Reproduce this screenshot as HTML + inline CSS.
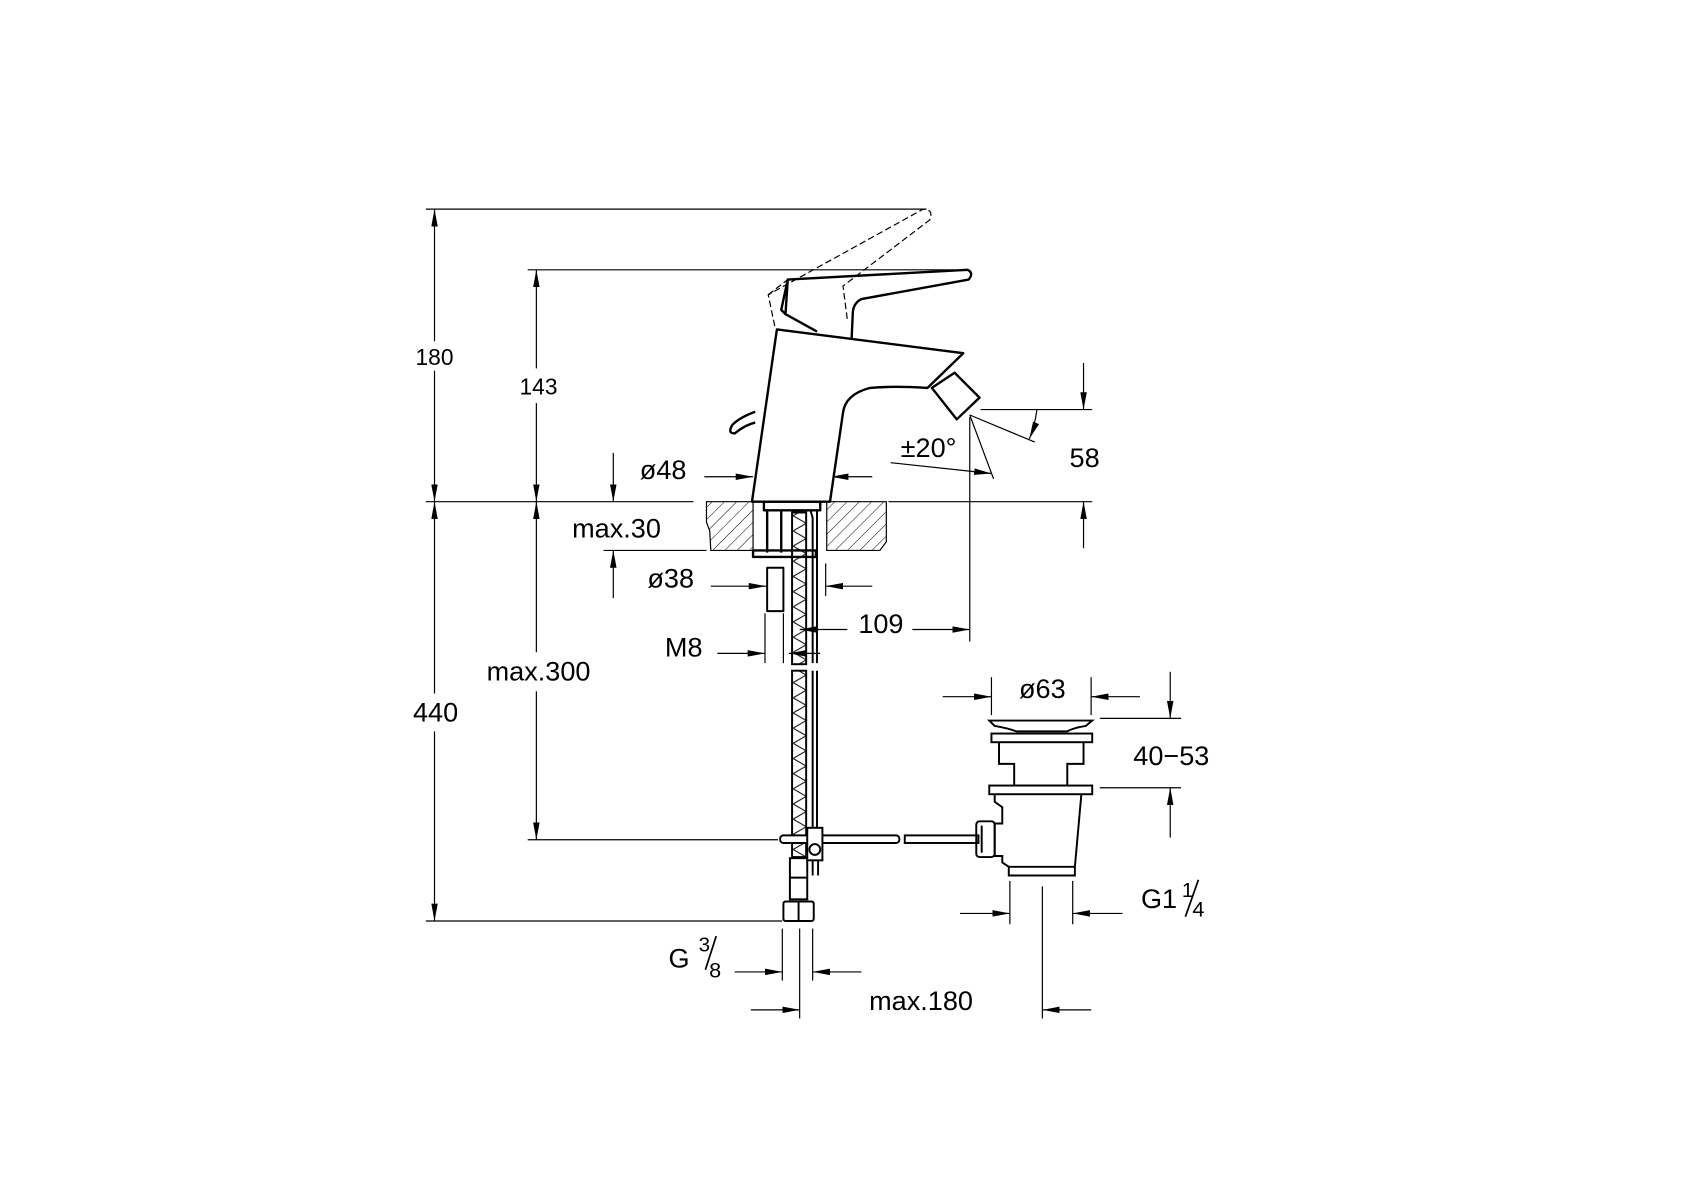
<!DOCTYPE html>
<html><head><meta charset="utf-8"><style>
html,body{margin:0;padding:0;background:#fff;}
svg{display:block;}
text{font-family:"Liberation Sans","DejaVu Sans",sans-serif;font-size:25px;fill:#000;text-anchor:middle;}
</style></head><body>
<svg width="1699" height="1200" viewBox="0 0 1568 1107.5" xmlns="http://www.w3.org/2000/svg">
<defs>
<marker id="a" viewBox="0 0 16 6" refX="16" refY="3" markerWidth="16" markerHeight="6" markerUnits="userSpaceOnUse" orient="auto">
<path d="M0,0 L16,3 L0,6 Z" fill="#000"/></marker>
<pattern id="h" width="8" height="8" patternUnits="userSpaceOnUse" patternTransform="rotate(45)">
<line x1="0" y1="0" x2="0" y2="8" stroke="#000" stroke-width="0.9"/></pattern>
<pattern id="z" width="12" height="14" patternUnits="userSpaceOnUse">
<path d="M0,0 L12,7 L0,14" fill="none" stroke="#000" stroke-width="0.9"/></pattern>
</defs>
<g stroke="#000" fill="none" stroke-width="1.1">
<line x1="393" y1="193" x2="855" y2="193"/>
<line x1="487" y1="249" x2="880" y2="249"/>
<line x1="393" y1="463" x2="640" y2="463"/>
<line x1="820" y1="463" x2="1008" y2="463"/>
<line x1="905" y1="378" x2="1008" y2="378"/>
<line x1="487" y1="775" x2="718" y2="775"/>
<line x1="393" y1="850" x2="722" y2="850"/>
<line x1="557" y1="508" x2="652" y2="508"/>
<line x1="401" y1="315" x2="401" y2="193" marker-end="url(#a)"/>
<line x1="401" y1="342" x2="401" y2="463" marker-end="url(#a)"/>
<line x1="401" y1="640" x2="401" y2="463" marker-end="url(#a)"/>
<line x1="401" y1="675" x2="401" y2="850" marker-end="url(#a)"/>
<line x1="495" y1="340" x2="495" y2="249" marker-end="url(#a)"/>
<line x1="495" y1="372" x2="495" y2="463" marker-end="url(#a)"/>
<line x1="495" y1="602" x2="495" y2="463" marker-end="url(#a)"/>
<line x1="495" y1="638" x2="495" y2="775" marker-end="url(#a)"/>
<line x1="566" y1="418" x2="566" y2="463" marker-end="url(#a)"/>
<line x1="650" y1="440" x2="695" y2="440" marker-end="url(#a)"/>
<line x1="805" y1="440" x2="767" y2="440" marker-end="url(#a)"/>
<line x1="566" y1="552" x2="566" y2="508" marker-end="url(#a)"/>
<line x1="656" y1="541" x2="707" y2="541" marker-end="url(#a)"/>
<line x1="805" y1="541" x2="762" y2="541" marker-end="url(#a)"/>
<line x1="762" y1="520" x2="762" y2="550"/>
<line x1="895" y1="385" x2="895" y2="592"/>
<line x1="782" y1="581" x2="738" y2="581" marker-end="url(#a)"/>
<line x1="842" y1="581" x2="895" y2="581" marker-end="url(#a)"/>
<line x1="662" y1="603" x2="706" y2="603" marker-end="url(#a)"/>
<line x1="706" y1="566" x2="706" y2="612"/>
<line x1="723" y1="566" x2="723" y2="612"/>
<line x1="757" y1="603" x2="728" y2="603" marker-end="url(#a)"/>
<line x1="1000" y1="335" x2="1000" y2="378" marker-end="url(#a)"/>
<line x1="1000" y1="506" x2="1000" y2="463" marker-end="url(#a)"/>
<line x1="895" y1="383" x2="955" y2="408"/>
<line x1="895" y1="383" x2="917" y2="442"/>
<path d="M957,378 Q955,393 950,405" marker-end="url(#a)"/>
<line x1="822" y1="427" x2="915" y2="437" marker-end="url(#a)"/>
<path d="M652,463 L695,463 L695,508 L656,508 L655,490 L652,482 Z" fill="url(#h)"/>
<path d="M763,463 L818,463 L818,500 L812,508 L763,508 Z" fill="url(#h)"/>
<g stroke-width="2.2" stroke-linejoin="round">
<path d="M694,463 L717,304 L889,326 L856,358 Q825,356 803,358 Q780,364 778,381 L766,463 Z" fill="#fff"/>
<path d="M860,358 L881,344 L904,367 L883,387 Z" fill="#fff"/>
<path d="M725,289 L727,258 L893,249 Q899,252 894,258 L795,276 Q787,280 787,290 L786,312"/>
<path d="M727,258 L721,286 L725,290 L754,306"/>
<path d="M697,380 Q683,385 676,392 Q671,400 678,400 Q688,392 697,390"/>
<rect x="705" y="463" width="52" height="8"/>
<line x1="708" y1="471" x2="708" y2="510"/><line x1="721" y1="471" x2="721" y2="510"/>
<rect x="695" y="508" width="58" height="6"/>
<rect x="708" y="524" width="15" height="40" stroke-width="1.8"/>
</g>
<rect x="731" y="473" width="13" height="140" fill="url(#z)" stroke-width="1.8"/>
<rect x="731" y="619" width="13" height="172" fill="url(#z)" stroke-width="1.8"/>
<path d="M748,471 L750,478 L750,612 M754,471 L754,612 M750,619 L750,768 M754,619 L754,768" stroke-width="1.8"/>
<g stroke-width="1.8">
<rect x="729" y="792" width="16" height="38"/>
<line x1="729" y1="810" x2="745" y2="810"/>
<rect x="723" y="832" width="28" height="18" rx="2"/>
<line x1="737" y1="832" x2="737" y2="850"/>
<rect x="720" y="771" width="110" height="7" rx="3" fill="#fff"/>
<rect x="835" y="771" width="68" height="7" fill="#fff"/>
<rect x="745" y="764" width="14" height="30" fill="#fff"/>
<circle cx="752" cy="784" r="5" fill="#fff"/>
<line x1="750" y1="794" x2="750" y2="808"/><line x1="755" y1="794" x2="755" y2="808"/>
<path d="M913,665 L1008,665 L1002,670 Q990,672 985,675 L938,675 Q930,672 918,670 Z"/>
<rect x="915" y="677" width="93" height="8"/>
<path d="M922,685 L922,705 L936,705 L936,725 L985,725 L985,705 L1000,705 L1000,685"/>
<rect x="913" y="725" width="95" height="8"/>
<path d="M918,733 L918,740 L925,745 L925,760 L918,760 L918,790 L925,790 L925,796 L931,800 L931,808 L992,808 L992,800 L998,733"/>
<line x1="931" y1="800" x2="992" y2="800"/>
<rect x="901" y="758" width="17" height="33" rx="3"/>
<line x1="906" y1="762" x2="906" y2="787"/>
</g>
<path d="M715,301 L709,272 L852,193 Q862,193 858,203 L778,264 L782,295" stroke-dasharray="6,3"/>
<path d="M709,272 L727,258" stroke-dasharray="6,3"/>
<line x1="915" y1="625" x2="915" y2="660"/><line x1="1007" y1="625" x2="1007" y2="660"/>
<line x1="870" y1="643" x2="915" y2="643" marker-end="url(#a)"/>
<line x1="1052" y1="643" x2="1007" y2="643" marker-end="url(#a)"/>
<line x1="1015" y1="663" x2="1090" y2="663"/><line x1="1015" y1="727" x2="1090" y2="727"/>
<line x1="1080" y1="620" x2="1080" y2="663" marker-end="url(#a)"/>
<line x1="1080" y1="773" x2="1080" y2="727" marker-end="url(#a)"/>
<line x1="932" y1="813" x2="932" y2="853"/><line x1="990" y1="813" x2="990" y2="853"/>
<line x1="962" y1="818" x2="962" y2="940"/>
<line x1="886" y1="843" x2="932" y2="843" marker-end="url(#a)"/>
<line x1="1036" y1="843" x2="990" y2="843" marker-end="url(#a)"/>
<line x1="722" y1="857" x2="722" y2="905"/><line x1="738" y1="857" x2="738" y2="940"/><line x1="750" y1="857" x2="750" y2="905"/>
<line x1="678" y1="897" x2="722" y2="897" marker-end="url(#a)"/>
<line x1="795" y1="897" x2="750" y2="897" marker-end="url(#a)"/>
<line x1="693" y1="932" x2="738" y2="932" marker-end="url(#a)"/>
<line x1="1007" y1="932" x2="962" y2="932" marker-end="url(#a)"/>
<line x1="1094" y1="846" x2="1106" y2="812" stroke-width="1.6"/>
<line x1="651" y1="895" x2="661" y2="864" stroke-width="1.6"/>
</g>
<text x="401" y="337" style="font-size:21px">180</text>
<text x="497" y="364" style="font-size:21px">143</text>
<text x="402" y="666">440</text>
<text x="497" y="628">max.300</text>
<text x="612" y="442">ø48</text>
<text x="569" y="496">max.30</text>
<text x="619" y="542">ø38</text>
<text x="813" y="584">109</text>
<text x="631" y="606">M8</text>
<text x="857" y="422">±20°</text>
<text x="1001" y="431">58</text>
<text x="962" y="644">ø63</text>
<text x="1081" y="706">40−53</text>
<text x="1053" y="838" style="text-anchor:start">G1</text>
<text x="1096" y="828" style="font-size:19px">1</text>
<text x="1106" y="846" style="font-size:20px">4</text>
<text x="617" y="893" style="text-anchor:start">G</text>
<text x="650" y="878" style="font-size:19px">3</text>
<text x="660" y="902" style="font-size:20px">8</text>
<text x="850" y="932">max.180</text>
</svg>
</body></html>
